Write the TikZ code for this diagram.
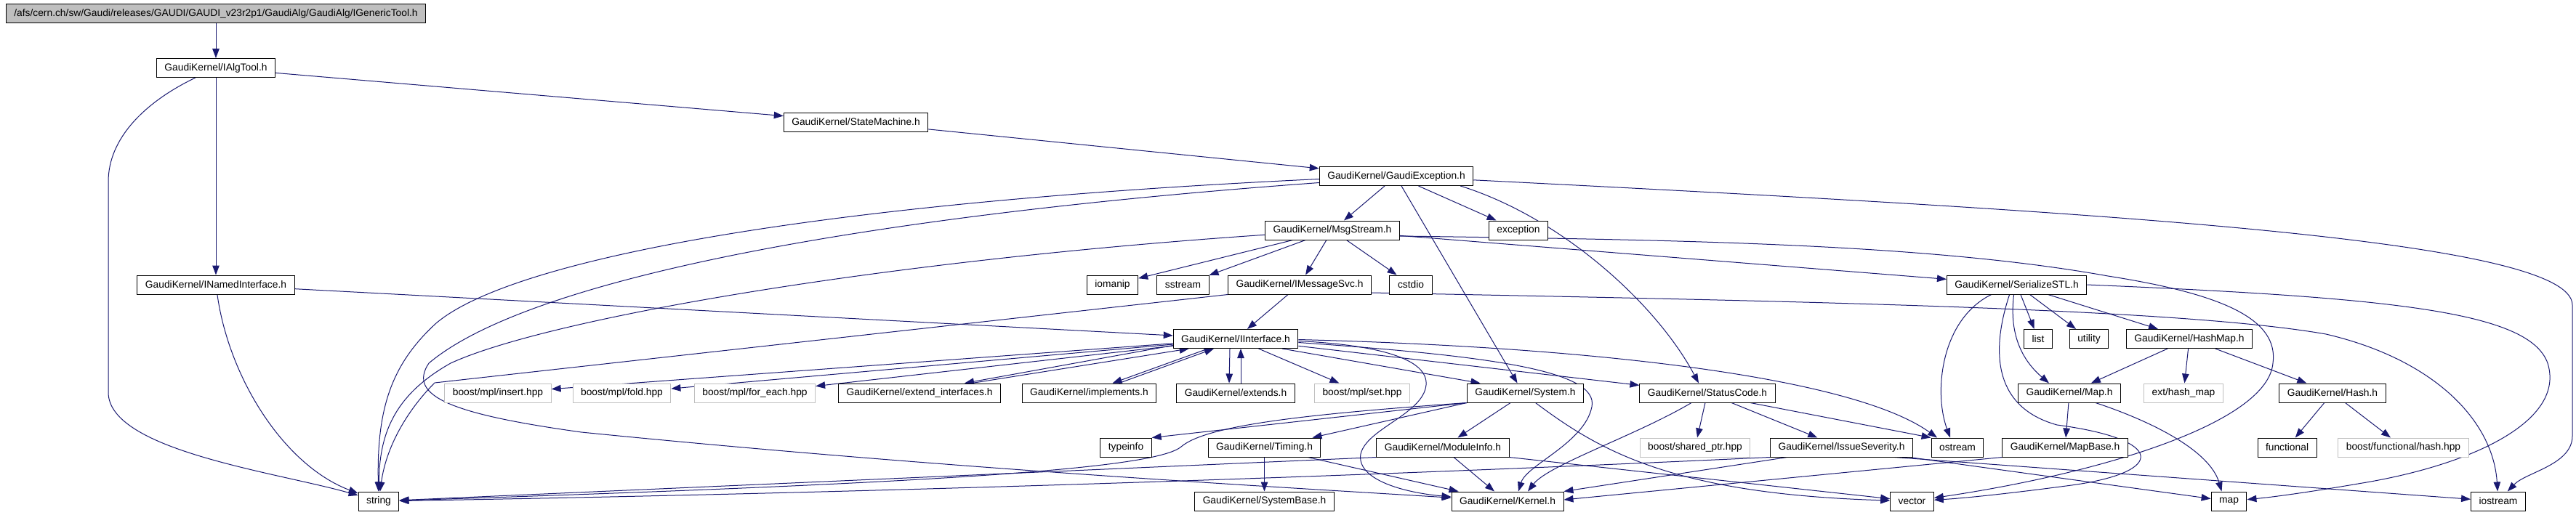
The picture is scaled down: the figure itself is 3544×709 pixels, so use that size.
\documentclass[tikz,border=0pt]{standalone}
\usepackage{fontspec}
\setmainfont{Liberation Sans}
\usetikzlibrary{arrows.meta, backgrounds}
\definecolor{edgeblue}{HTML}{191970}
\definecolor{boxgray}{HTML}{BFBFBF}
\tikzset{>={Triangle[length=13pt,width=9.5pt]},
  hdr/.style={draw=black,fill=white,line width=1pt,minimum height=26pt,inner xsep=11pt,inner ysep=0pt,font=\fontsize{13.8}{16}\selectfont},
  extbox/.style={hdr,draw=boxgray},
  rootbox/.style={hdr,fill=boxgray},
  inc/.style={->,draw=edgeblue,line width=1pt}}
\begin{document}
\begin{tikzpicture}[x=1pt,y=-1pt]
        \useasboundingbox (0,0) rectangle (3544,709);
        \node[rootbox] (R) at (297,18.5) {/afs/cern.ch/sw/Gaudi/releases/GAUDI/GAUDI\_v23r2p1/GaudiAlg/GaudiAlg/IGenericTool.h};
        \node[hdr] (AT) at (297,93.5) {GaudiKernel/IAlgTool.h};
        \node[hdr] (SM) at (1177.5,168) {GaudiKernel/StateMachine.h};
        \node[hdr] (GE) at (1921,242.5) {GaudiKernel/GaudiException.h};
        \node[hdr] (MS) at (1833,317) {GaudiKernel/MsgStream.h};
        \node[hdr] (EX) at (2089,317) {exception};
        \node[hdr] (NI) at (297,392) {GaudiKernel/INamedInterface.h};
        \node[hdr] (IM) at (1530.5,392) {iomanip};
        \node[hdr] (SS) at (1627.5,392) {sstream};
        \node[hdr] (MV) at (1788,392) {GaudiKernel/IMessageSvc.h};
        \node[hdr] (CS) at (1941,392) {cstdio};
        \node[hdr] (ST) at (2774.6,392) {GaudiKernel/SerializeSTL.h};
        \node[hdr] (II) at (1700,466.5) {GaudiKernel/IInterface.h};
        \node[hdr] (LI) at (2804,466.5) {list};
        \node[hdr] (UT) at (2874,466.5) {utility};
        \node[hdr] (HM) at (3012,466.5) {GaudiKernel/HashMap.h};
        \node[extbox] (MI) at (685,541) {boost/mpl/insert.hpp};
        \node[extbox] (MF) at (855.5,541) {boost/mpl/fold.hpp};
        \node[extbox] (ME) at (1038.5,541) {boost/mpl/for\_each.hpp};
        \node[hdr] (EI) at (1265,541) {GaudiKernel/extend\_interfaces.h};
        \node[hdr] (IP) at (1498.5,541) {GaudiKernel/implements.h};
        \node[hdr] (ED) at (1700,541) {GaudiKernel/extends.h};
        \node[extbox] (MT) at (1874,541) {boost/mpl/set.hpp};
        \node[hdr] (SY) at (2098.5,541) {GaudiKernel/System.h};
        \node[hdr] (SC) at (2349,541) {GaudiKernel/StatusCode.h};
        \node[hdr] (MP) at (2847,541) {GaudiKernel/Map.h};
        \node[extbox] (EH) at (3004,541) {ext/hash\_map};
        \node[hdr] (HS) at (3209,541) {GaudiKernel/Hash.h};
        \node[hdr] (TI) at (1549,616) {typeinfo};
        \node[hdr] (TM) at (1739.5,616) {GaudiKernel/Timing.h};
        \node[hdr] (MO) at (1985,616) {GaudiKernel/ModuleInfo.h};
        \node[extbox] (SP) at (2332,616) {boost/shared\_ptr.hpp};
        \node[hdr] (IS) at (2533.5,616) {GaudiKernel/IssueSeverity.h};
        \node[hdr] (OS) at (2693,616) {ostream};
        \node[hdr] (MB) at (2841,616) {GaudiKernel/MapBase.h};
        \node[hdr] (FN) at (3146.5,616) {functional};
        \node[extbox] (BH) at (3306.5,616) {boost/functional/hash.hpp};
        \node[hdr] (S) at (521,690) {string};
        \node[hdr] (SB) at (1739.5,690) {GaudiKernel/SystemBase.h};
        \node[hdr] (K) at (2074,690) {GaudiKernel/Kernel.h};
        \node[hdr] (V) at (2630.5,690) {vector};
        \node[hdr] (M) at (3066.5,690) {map};
        \node[hdr] (IO) at (3437,690) {iostream};

        \begin{scope}[on background layer]
        \draw[inc] (R)--(AT);
        \draw[inc] (AT) .. controls (200,140) and (149,190) .. (149,250) -- (149,540) .. controls (149,620) and (380,650) .. (S);
        \draw[inc] (AT)--(NI);
        \draw[inc] (AT)--(SM);
        \draw[inc] (SM)--(GE);
        \draw[inc] (NI) .. controls (315,520) and (390,640) .. (S);
        \draw[inc] (NI)--(II);
        \draw[inc] (GE)--(MS);
        \draw[inc] (GE)--(EX);
        \draw[inc] ([xshift=7pt]GE.south)--([xshift=-11pt]SY.north);
        \draw[inc] ([xshift=-18pt]GE.south east) .. controls (2150,300) and (2280,420) .. ([xshift=-12pt]SC.north);
        \draw[inc] (GE) .. controls (2900,292) and (3539,330) .. (3539,420) -- (3539,600) .. controls (3539,640) and (3475,650) .. (IO);
        \draw[inc] ([yshift=-4pt]GE.west) .. controls (1100,280) and (700,360) .. (600,445) .. controls (540,500) and (518,560) .. (S);
        \draw[inc] ([yshift=-9pt]GE.west) .. controls (1150,300) and (720,390) .. (590,500) .. controls (560,545) and (620,570) .. (800,595) .. controls (1300,645) and (1750,670) .. (K);
        \draw[inc] (MS)--(IM);
        \draw[inc] (MS)--(SS);
        \draw[inc] (MS)--(MV);
        \draw[inc] (MS)--(CS);
        \draw[inc] (MS)--(ST);
        \draw[inc] ([yshift=-8pt]MS.east) .. controls (2300,330) and (2650,335) .. (2900,380) .. controls (3060,405) and (3135,440) .. (3127,500) .. controls (3120,580) and (2900,650) .. (V);
        \draw[inc] (MS) .. controls (1200,360) and (750,440) .. (620,500) .. controls (540,545) and (522,600) .. (S);
        \draw[inc] (MV)--(II);
        \draw[inc] (MV.south west) -- (598,527) .. controls (565,560) and (532,610) .. (S);
        \draw[inc] ([yshift=-11pt]MV.east) .. controls (2500,415) and (3000,425) .. (3200,460) .. controls (3350,495) and (3430,580) .. (IO);
        \draw[inc] (II)--(MI);
        \draw[inc] (II)--(MF);
        \draw[inc] (II)--(ME);
        \draw[inc] ([yshift=-9pt]II.west) -- ([xshift=-50pt]EI.north east);
        \draw[inc] ([xshift=-40pt]EI.north east) -- ([xshift=22pt]II.south west);
        \draw[inc] ([xshift=-38pt]II.south) -- ([xshift=32pt]IP.north);
        \draw[inc] ([xshift=41pt]IP.north) -- ([xshift=-30pt]II.south);
        \draw[inc] ([xshift=-8pt]II.south) -- ([xshift=-9pt]ED.north);
        \draw[inc] ([xshift=7pt]ED.north) -- ([xshift=7pt]II.south);
        \draw[inc] (II)--(MT);
        \draw[inc] ([yshift=-1pt]II.east) .. controls (2200,478) and (2550,520) .. ([xshift=-28pt]OS.north);
        \draw[inc] (II)--(SC);
        \draw[inc] ([xshift=64pt]II.south) -- ([xshift=-62pt]SY.north);
        \draw[inc] ([yshift=-5pt]II.east) .. controls (2050,490) and (2200,510) .. (2190,560) .. controls (2180,610) and (2100,640) .. ([xshift=15pt]K.north);
        \draw[inc] ([yshift=-3pt]II.east) .. controls (1900,475) and (1965,495) .. (1962,530) .. controls (1958,570) and (1880,590) .. (1872,625) .. controls (1866,660) and (1930,678) .. ([yshift=6pt]K.west);
        \draw[inc] (SY.south west) -- ([xshift=-12pt]TM.north east);
        \draw[inc] (SY.south west) -- (TI.north east);
        \draw[inc] (SY.south west) .. controls (1800,570) and (1660,585) .. (1625,615) .. controls (1590,645) and (1300,665) .. (S);
        \draw[inc] (SY)--(MO);
        \draw[inc] ([xshift=14pt]SY.south) .. controls (2200,620) and (2300,680) .. (V);
        \draw[inc] (SC)--(SP);
        \draw[inc] (SC)--(IS);
        \draw[inc] ([xshift=59pt]SC.south) -- (OS.north west);
        \draw[inc] ([xshift=-22pt]SC.south) .. controls (2250,600) and (2130,640) .. ([xshift=28pt]K.north);
        \draw[inc] ([xshift=-75pt]IS.south) -- (K.north east);
        \draw[inc] (IS.south west) .. controls (2000,650) and (1300,677) .. (S);
        \draw[inc] ([xshift=-25pt]IS.south east) -- (IO);
        \draw[inc] ([xshift=-5pt]IS.south east) -- (M);
        \draw[inc] (MB.south west) -- ([yshift=2pt]K.east);
        \draw[inc] ([xshift=15pt]MO.south) -- ([xshift=-18pt]K.north);
        \draw[inc] (MO.south east) -- (V);
        \draw[inc] (MO.south west) -- (S);
        \draw[inc] (TM)--(SB);
        \draw[inc] ([xshift=-18pt]TM.south east) -- ([xshift=10pt]K.north west);
        \draw[inc] (ST)--(LI);
        \draw[inc] (ST)--(UT);
        \draw[inc] (ST)--(HM);
        \draw[inc] ([xshift=-4pt]ST.south) .. controls (2765,450) and (2775,490) .. ([xshift=-28pt]MP.north);
        \draw[inc] ([xshift=-35pt]ST.south) .. controls (2670,440) and (2660,540) .. ([xshift=-10pt]OS.north);
        \draw[inc] ([xshift=-10pt]ST.south) .. controls (2740,480) and (2740,560) .. (2830,585) .. controls (2980,605) and (2980,650) .. (2850,668) .. controls (2760,680) and (2700,686) .. (V);
        \draw[inc] (ST.east) .. controls (3300,410) and (3480,430) .. (3505,500) .. controls (3530,580) and (3400,640) .. (3250,665) .. controls (3180,677) and (3130,684) .. (M);
        \draw[inc] (MP)--(MB);
        \draw[inc] ([xshift=36pt]MP.south) .. controls (2960,580) and (3040,620) .. ([xshift=-10pt]M.north);
        \draw[inc] (HM)--(MP);
        \draw[inc] (HM)--(EH);
        \draw[inc] (HM)--(HS);
        \draw[inc] (HS)--(FN);
        \draw[inc] (HS)--(BH);
        \end{scope}
\end{tikzpicture}
\end{document}
